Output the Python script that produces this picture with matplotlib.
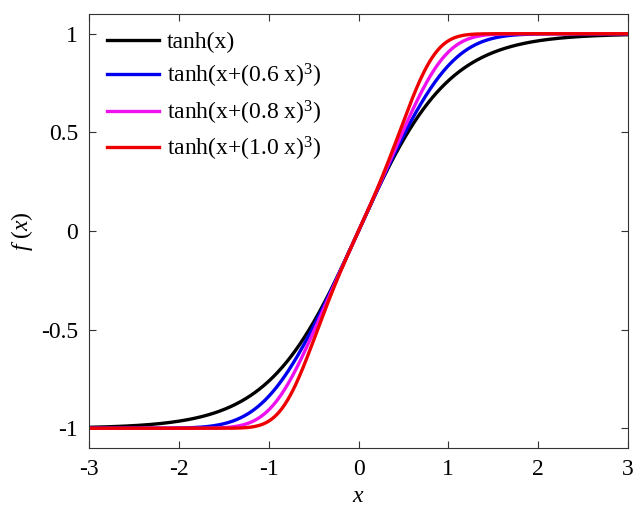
import numpy as np
import matplotlib.pyplot as plt

plt.rcParams['font.family'] = ['Liberation Serif', 'DejaVu Serif']
plt.rcParams['mathtext.fontset'] = 'custom'
plt.rcParams['mathtext.rm'] = 'Liberation Serif'
plt.rcParams['mathtext.it'] = 'Liberation Serif:italic'

# curves: tanh(x + (a x)^3), a = 0 is plain tanh
coefs = [0.0, 0.6, 0.8, 1.0]
labels = ["tanh(x)", "tanh(x+(0.6 x)$^3$)", "tanh(x+(0.8 x)$^3$)", "tanh(x+(1.0 x)$^3$)"]
colors = ["#000000", "#0000ee", "#ee11ee", "#ee0000"]
x = np.linspace(-3, 3, 601)

fig = plt.figure(figsize=(6.4, 5.12), dpi=100)
ax = fig.add_axes([89/640, 1-448/512, (628-89)/640, (448-14)/512])

for a, lab, c in zip(coefs, labels, colors):
    ax.plot(x, np.tanh(x + (a*x)**3), color=c, lw=2.4, label=lab)

ax.set_xlim(-3, 3)
ax.set_ylim(-1.1, 1.1)
ax.set_xticks([-3, -2, -1, 0, 1, 2, 3])
ax.set_yticks([-1, -0.5, 0, 0.5, 1])
ax.set_xticklabels(["-3", "-2", "-1", "0", "1", "2", "3"])
ax.set_yticklabels(["-1", "-0.5", "0", "0.5", "1"])
for s in ax.spines.values():
    s.set_color('#333333')
ax.tick_params(direction='in', top=True, right=True, labelsize=17, length=5, pad=8,
               color='#333333')
ax.set_xlabel("$x$", fontsize=17, labelpad=4)
ax.set_ylabel("$f\\ (x)$", fontsize=17, labelpad=4)

leg = ax.legend(loc='upper left', fontsize=17, frameon=False, handlelength=2.2,
                handletextpad=0.35, labelspacing=0.36, borderaxespad=0.3,
                borderpad=0.45)

fig.savefig("out.png", dpi=100)
